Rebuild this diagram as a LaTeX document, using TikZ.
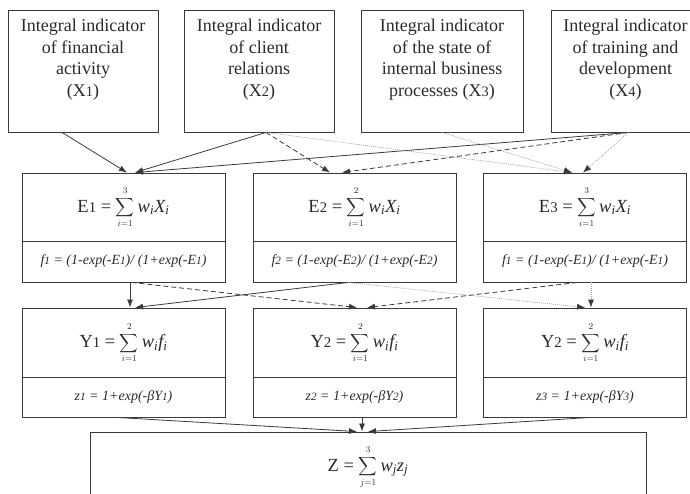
\documentclass[tikz,border=0pt]{standalone}
\usepackage{fontspec}
\setmainfont{Liberation Serif}
\usepackage{graphicx}
\usetikzlibrary{arrows.meta,calc}
\definecolor{ln}{HTML}{3A3A3A}
\definecolor{tx}{HTML}{2A2A2A}
\definecolor{dt}{HTML}{9A9A9A}
\newcommand{\sbs}[1]{\scalebox{0.8}{#1}}
\newcommand{\toptext}[2]{\parbox[c][122pt][t]{#1}{\centering\rule{0pt}{22pt}#2}}
\newcommand{\bsum}[2]{$\displaystyle\mathop{\vcenter{\hbox{\scalebox{1.3}{$\displaystyle\sum$}}}}\limits_{\raisebox{-2pt}{$\scriptscriptstyle #1$}}^{\raisebox{2pt}{$\scriptscriptstyle #2$}}$}
\begin{document}
\begin{tikzpicture}[x=1pt,y=-1pt,
  box/.style={draw=ln, line width=0.9pt, inner sep=0pt, text=tx},
  topbox/.style={box, minimum height=122pt, font=\fontsize{18}{21.5}\selectfont},
  etop/.style={box, minimum width=203pt, minimum height=68pt, font=\fontsize{18.5}{21}\selectfont},
  ebot/.style={box, minimum width=203pt, minimum height=41pt, font=\fontsize{14}{16}\selectfont\itshape},
  ytop/.style={box, minimum width=203pt, minimum height=69pt, font=\fontsize{18.5}{21}\selectfont},
  ybot/.style={box, minimum width=203pt, minimum height=40pt, font=\fontsize{14}{16}\selectfont\itshape},
  zbox/.style={box, minimum width=556pt, minimum height=70pt, font=\fontsize{18.5}{21}\selectfont},
  con/.style={draw=ln, line width=0.8pt, -{Latex[length=8pt,width=6pt]}},
  dsh/.style={con, dash pattern=on 5pt off 3pt},
  dtt/.style={draw=dt, line width=0.6pt, dash pattern=on 1pt off 1pt, -{Latex[length=8pt,width=6pt,color=ln]}}
]
\useasboundingbox (0,0) rectangle (690,494);
\clip (0,0) rectangle (690,494);

% top boxes
\node[topbox, minimum width=150pt] (X1) at (83,71) {\toptext{150pt}{Integral indicator\\of financial\\activity\\(X\sbs{1})}};
\node[topbox, minimum width=150pt] (X2) at (259,71) {\toptext{150pt}{Integral indicator\\of client\\relations\\(X\sbs{2})}};
\node[topbox, minimum width=162pt] (X3) at (442,71) {\toptext{162pt}{Integral indicator\\of the state of\\internal business\\processes (X\sbs{3})}};
\node[topbox, minimum width=149pt] (X4) at (625.5,71) {\toptext{149pt}{Integral indicator\\of training and\\development\\(X\sbs{4})}};

% E row
\node[etop] (E1) at (123.5,207) {E\sbs{1} = \bsum{i=1}{3}\,\textit{w\textsubscript{i}X\textsubscript{i}}};
\node[ebot] (F1) at (123.5,261.5) {f\sbs{1} = (1-exp(-E\sbs{1})/ (1+exp(-E\sbs{1})};
\node[etop] (E2) at (354.5,207) {E\sbs{2} = \bsum{i=1}{2}\,\textit{w\textsubscript{i}X\textsubscript{i}}};
\node[ebot] (F2) at (354.5,261.5) {f\sbs{2} = (1-exp(-E\sbs{2})/ (1+exp(-E\sbs{2})};
\node[etop] (E3) at (585,207) {E\sbs{3} = \bsum{i=1}{3}\,\textit{w\textsubscript{i}X\textsubscript{i}}};
\node[ebot] (F3) at (585,261.5) {f\sbs{1} = (1-exp(-E\sbs{1})/ (1+exp(-E\sbs{1})};

% Y row
\node[ytop] (Y1) at (123.5,342.5) {Y\sbs{1} = \bsum{i=1}{2}\,\textit{w\textsubscript{i}f\textsubscript{i}}};
\node[ybot] (G1) at (123.5,397) {z\sbs{1} = 1+exp(-βY\sbs{1})};
\node[ytop] (Y2) at (354.5,342.5) {Y\sbs{2} = \bsum{i=1}{2}\,\textit{w\textsubscript{i}f\textsubscript{i}}};
\node[ybot] (G2) at (354.5,397) {z\sbs{2} = 1+exp(-βY\sbs{2})};
\node[ytop] (Y3) at (585,342.5) {Y\sbs{2} = \bsum{i=1}{2}\,\textit{w\textsubscript{i}f\textsubscript{i}}};
\node[ybot] (G3) at (585,397) {z\sbs{3} = 1+exp(-βY\sbs{3})};

% Z
\node[zbox] (Z) at (368,467) {Z = \bsum{j=1}{3}\,\textit{w\textsubscript{j}z\textsubscript{j}}};

% top -> E
\draw[con] ([xshift=-21pt]X1.south) -- ([xshift=3.5pt]E1.north);
\draw[con] ([xshift=7pt]X2.south) -- ([xshift=11.5pt]E1.north);
\draw[con] ([xshift=3pt]X4.south) -- ([xshift=11.5pt]E1.north);
\draw[dsh] ([xshift=7pt]X2.south) -- ([xshift=-24.5pt]E2.north);
\draw[dsh] ([xshift=3pt]X4.south) -- ([xshift=-12.5pt]E2.north);
\draw[dtt] ([xshift=7pt]X2.south) -- ([xshift=-13pt]E3.north);
\draw[dtt] (X3.south) -- ([xshift=-13pt]E3.north);
\draw[dtt] ([xshift=3pt]X4.south) -- ([xshift=-2pt]E3.north);

% E -> Y
\draw[con] ([xshift=6.5pt]F1.south) -- ([xshift=6.5pt]Y1.north);
\draw[dsh] ([xshift=8pt]F1.south) -- ([xshift=2.5pt]Y2.north);
\draw[con] ([xshift=-6.5pt]F2.south) -- ([xshift=11.5pt]Y1.north);
\draw[dtt] ([xshift=-6.5pt]F2.south) -- (Y3.north);
\draw[dsh] ([xshift=-8pt]F3.south) -- ([xshift=12.5pt]Y2.north);
\draw[dtt] ([xshift=6pt]F3.south) -- ([xshift=6pt]Y3.north);

% Y -> Z
\draw[con] ([xshift=-6.5pt]G1.south) -- ([xshift=-11pt]Z.north);
\draw[con] ([xshift=7.5pt]G2.south) -- ([xshift=-6pt]Z.north);
\draw[con] ([xshift=5pt]G3.south) -- (Z.north);
\end{tikzpicture}
\end{document}
